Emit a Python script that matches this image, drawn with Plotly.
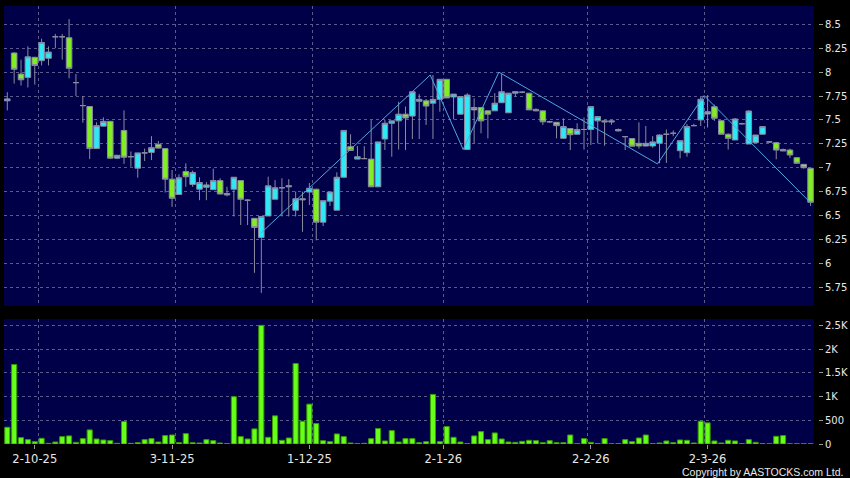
import plotly.graph_objects as go

# ---- data (index = trading-day slot) ----
opens = [7.70, 8.20, 7.98, 7.945, 8.155, 8.12, 8.145, 8.37, 8.37, 8.36,
         7.89, 7.65, 7.64, 7.20, 7.435, 7.485, 7.10, 7.39, 7.115, 6.995,
         7.155, 7.16, 7.245, 7.20, 6.88, 6.72, 6.96, 6.825, 6.775, 6.795,
         6.77, 6.865, 6.73, 6.775, 6.865, 6.66, 6.47, 6.27, 6.495, 6.67,
         6.79, 6.80, 6.555, 6.675, 6.745, 6.775, 6.43, 6.65, 6.555, 6.90,
         7.22, 7.09, 7.095, 7.09, 6.80, 7.30, 7.465, 7.49, 7.56, 7.54,
         7.695, 7.70, 7.675, 7.715, 7.925, 7.74, 7.56, 7.19, 7.605, 7.63,
         7.595, 7.595, 7.68, 7.575, 7.78, 7.79, 7.78, 7.61, 7.595, 7.48,
         7.475, 7.307, 7.41, 7.35, 7.40, 7.40, 7.49, 7.49, 7.49, 7.40,
         7.325, 7.305, 7.255, 7.227, 7.227, 7.255, 7.35, 7.36, 7.178, 7.157,
         7.44, 7.50, 7.562, 7.638, 7.492, 7.35, 7.29, 7.46, 7.248, 7.262,
         7.35, 7.27, 7.262, 7.19, 7.185, 7.105, 7.035, 6.994]
highs = [7.79, 8.21, 8.13, 8.27, 8.16, 8.35, 8.27, 8.40, 8.40, 8.555,
         7.98, 7.75, 7.64, 7.475, 7.527, 7.49, 7.13, 7.60, 7.17, 7.155,
         7.20, 7.33, 7.28, 7.20, 6.976, 6.93, 7.046, 6.97, 6.90, 6.85,
         6.99, 6.89, 6.80, 6.90, 6.87, 6.67, 6.47, 6.49, 6.906, 6.87,
         6.89, 6.88, 6.75, 6.75, 6.84, 6.78, 6.655, 6.745, 6.952, 7.39,
         7.35, 7.227, 7.225, 7.50, 7.27, 7.50, 7.49, 7.69, 7.64, 7.80,
         7.77, 7.72, 7.97, 7.925, 7.925, 7.77, 7.745, 7.78, 7.726, 7.63,
         7.60, 7.78, 7.98, 7.78, 7.795, 7.80, 7.78, 7.62, 7.60, 7.49,
         7.475, 7.517, 7.41, 7.464, 7.525, 7.64, 7.535, 7.50, 7.50, 7.41,
         7.33, 7.31, 7.475, 7.436, 7.33, 7.35, 7.40, 7.39, 7.283, 7.457,
         7.46, 7.74, 7.76, 7.66, 7.50, 7.36, 7.52, 7.47, 7.60, 7.342,
         7.43, 7.28, 7.27, 7.20, 7.20, 7.11, 7.04, 6.994]
lows = [7.60, 7.88, 7.86, 7.84, 7.87, 8.07, 8.07, 8.25, 8.13, 7.935,
        7.75, 7.47, 7.09, 7.20, 7.433, 7.09, 7.09, 7.04, 7.01, 6.895,
        7.07, 7.08, 7.20, 6.74, 6.59, 6.72, 6.80, 6.80, 6.66, 6.66,
        6.77, 6.72, 6.70, 6.49, 6.40, 6.40, 5.90, 5.69, 6.495, 6.67,
        6.49, 6.49, 6.49, 6.33, 6.61, 6.24, 6.39, 6.60, 6.555, 6.90,
        7.18, 7.09, 7.095, 6.80, 6.80, 7.185, 7.115, 7.19, 7.185, 7.30,
        7.30, 7.447, 7.30, 7.586, 7.73, 7.506, 7.56, 7.19, 7.255, 7.36,
        7.307, 7.595, 7.68, 7.575, 7.743, 7.78, 7.604, 7.59, 7.447, 7.47,
        7.307, 7.307, 7.185, 7.35, 7.19, 7.237, 7.255, 7.23, 7.45, 7.38,
        7.185, 7.225, 7.20, 7.227, 7.21, 7.046, 7.05, 7.33, 7.098, 7.115,
        7.44, 7.436, 7.42, 7.49, 7.35, 7.19, 7.29, 7.45, 7.248, 7.262,
        7.35, 7.26, 7.088, 7.175, 7.10, 7.046, 6.99, 6.60]
closes = [7.72, 8.03, 7.92, 8.16, 8.07, 8.31, 8.21, 8.37, 8.37, 8.04,
          7.89, 7.65, 7.20, 7.44, 7.485, 7.10, 7.13, 7.11, 7.115, 7.155,
          7.155, 7.21, 7.205, 6.88, 6.68, 6.895, 6.905, 6.95, 6.845, 6.82,
          6.865, 6.725, 6.715, 6.90, 6.67, 6.66, 6.375, 6.49, 6.81, 6.79,
          6.79, 6.81, 6.675, 6.665, 6.785, 6.43, 6.655, 6.745, 6.90, 7.39,
          7.18, 7.115, 7.095, 6.80, 7.27, 7.465, 7.49, 7.56, 7.52, 7.795,
          7.715, 7.645, 7.715, 7.925, 7.73, 7.77, 7.745, 7.76, 7.63, 7.49,
          7.56, 7.675, 7.795, 7.78, 7.795, 7.79, 7.605, 7.595, 7.48, 7.48,
          7.44, 7.43, 7.345, 7.40, 7.40, 7.64, 7.535, 7.48, 7.48, 7.385,
          7.325, 7.225, 7.227, 7.255, 7.27, 7.342, 7.35, 7.36, 7.283, 7.43,
          7.44, 7.716, 7.586, 7.517, 7.35, 7.307, 7.51, 7.46, 7.593, 7.342,
          7.43, 7.27, 7.185, 7.175, 7.133, 7.046, 7.0, 6.638]
volumes = [353, 1674, 134, 92, 49, 120, 14, 42, 155, 170,
           35, 113, 297, 106, 85, 70, 14, 473, 14, 28,
           92, 113, 42, 177, 190, 28, 219, 28, 21, 92,
           70, 21, 7, 996, 155, 106, 318, 2500, 141, 593,
           78, 127, 1695, 480, 840, 431, 70, 49, 212, 155,
           21, 7, 14, 113, 325, 64, 282, 42, 113, 113,
           28, 49, 1045, 49, 367, 141, 42, 7, 170, 261,
           92, 233, 106, 42, 35, 56, 78, 70, 28, 70,
           28, 28, 190, 7, 113, 35, 7, 113, 4, 7,
           92, 49, 127, 190, 7, 21, 64, 28, 85, 78,
           21, 480, 445, 64, 21, 78, 64, 7, 92, 35,
           7, 4, 162, 177, 4, 4, 4, 4]
idx = list(range(len(opens)))

# zigzag trend line (slot, price)
zz_idx = [37, 61.6, 66.4, 71.6, 94.7, 101.5, 116.9]
zz_val = [6.32, 7.97, 7.19, 8.0, 7.04, 7.755, 6.64]

# axis labels
date_ticks = [4, 24, 44, 63.5, 85, 102]
date_labels = ["2-10-25", "3-11-25", "1-12-25", "2-1-26", "2-2-26", "2-3-26"]
date_grid = [4.5, 24.5, 44.5, 63.5, 84.5, 101.5]
price_ticks = [5.75, 6, 6.25, 6.5, 6.75, 7, 7.25, 7.5, 7.75, 8, 8.25, 8.5]
price_labels = ["5.75", "6", "6.25", "6.5", "6.75", "7", "7.25", "7.5", "7.75", "8", "8.25", "8.5"]
vol_ticks = [0, 500, 1000, 1500, 2000, 2500]
vol_labels = ["0", "500", "1K", "1.5K", "2K", "2.5K"]

W, H = 850, 478
PANEL = "#000048"
GRID = "#5a5a8c"
TXT = "#e8e8e8"
xl, xr = 4 / W, 814 / W

fig = go.Figure()
fig.add_trace(go.Candlestick(
    x=idx, open=opens, high=highs, low=lows, close=closes,
    increasing=dict(fillcolor="#2ee8f8", line=dict(color="#8a8aa0", width=1)),
    decreasing=dict(fillcolor="#80ee22", line=dict(color="#8a8aa0", width=1)),
    xaxis="x", yaxis="y", showlegend=False, hoverinfo="skip"))
fig.add_trace(go.Scatter(
    x=zz_idx, y=zz_val, mode="lines", line=dict(color="#4fa6e0", width=1),
    xaxis="x", yaxis="y", showlegend=False, hoverinfo="skip"))
fig.add_trace(go.Bar(
    x=idx, y=volumes, width=0.74,
    marker=dict(color="#66ff1a", line=dict(color="#3a9a00", width=1)),
    xaxis="x2", yaxis="y2", showlegend=False, hoverinfo="skip"))

xcommon = dict(domain=[xl, xr], range=[-0.48, 117.5], showgrid=False, zeroline=False,
               showline=False, automargin=False,
               minor=dict(tickvals=date_grid, showgrid=True, gridcolor=GRID,
                          griddash="3px,3px", gridwidth=1, ticks=""))
ycommon = dict(side="right", anchor="free", position=818 / W, automargin=False,
               ticks="outside", ticklen=4, tickcolor="#9a9a9a",
               tickfont=dict(size=10, color=TXT),
               showgrid=True, gridcolor=GRID, griddash="3px,3px", gridwidth=1,
               zeroline=False, showline=False)
fig.update_layout(
    width=W, height=H, autosize=False,
    margin=dict(l=0, r=0, t=0, b=0, pad=0, autoexpand=False),
    paper_bgcolor="#000000", plot_bgcolor=PANEL,
    boxgap=0.1, boxgroupgap=0.1,
    font=dict(family="DejaVu Sans", color=TXT, size=11),
    xaxis=dict(**xcommon, anchor="y", showticklabels=False, ticks="",
               rangeslider=dict(visible=False)),
    xaxis2=dict(**xcommon, anchor="y2", matches="x", tickvals=date_ticks,
                ticktext=date_labels, ticks="outside", ticklen=4,
                tickcolor="#9a9a9a", tickfont=dict(size=11.5, color=TXT)),
    yaxis=dict(**ycommon, domain=[1 - 306 / H, 1 - 5.7 / H], range=[5.553, 8.695],
               tickvals=price_ticks, ticktext=price_labels),
    yaxis2=dict(**ycommon, domain=[1 - 444 / H, 1 - 319 / H], range=[0, 2634],
                tickvals=vol_ticks, ticktext=vol_labels),
    annotations=[dict(text="Copyright by AASTOCKS.com Ltd.", xref="paper", yref="paper",
                      x=845 / W, y=1 - 471.7 / H, xanchor="right", yanchor="middle",
                      showarrow=False,
                      font=dict(family="Liberation Sans", size=10.5, color=TXT))],
)

fig.write_html("out.html", config={"displayModeBar": False, "responsive": False},
               post_script="document.body.style.margin='0';"
                           "document.body.style.background='#000';")
